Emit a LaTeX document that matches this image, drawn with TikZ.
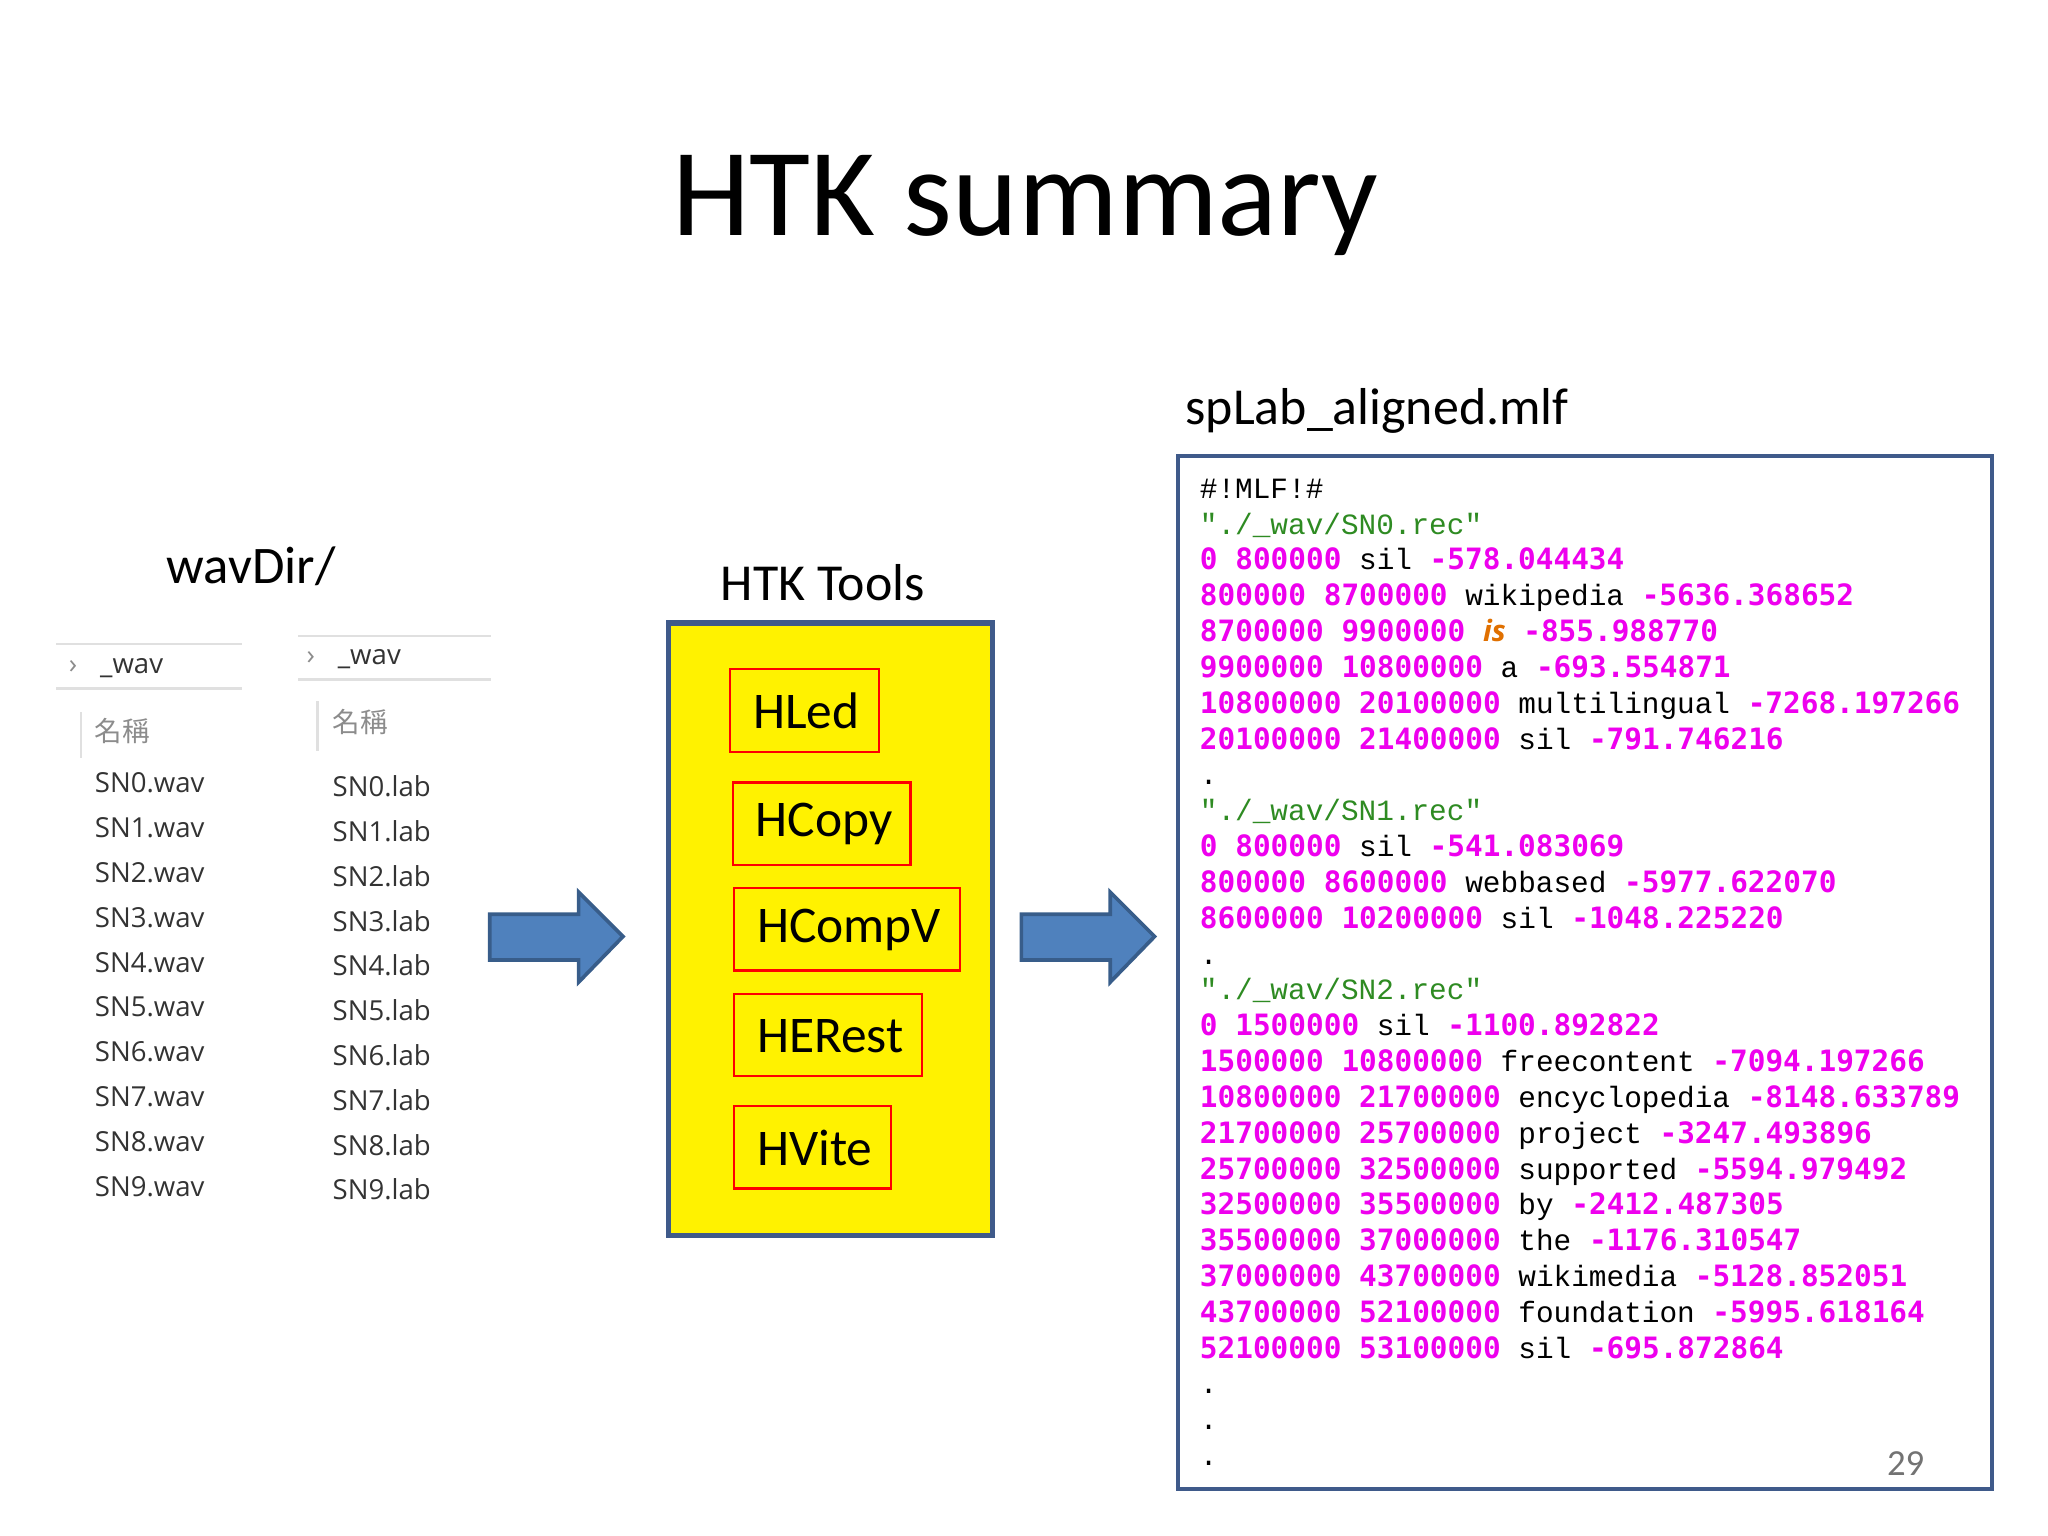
\documentclass[tikz,border=0pt]{standalone}
\usepackage{fontspec}
\setmainfont{Carlito}
\newfontfamily\cjkf{Noto Sans CJK TC}
\newfontfamily\uif{Open Sans}
\newfontfamily\monok{Liberation Mono}
\newfontfamily\monom{DejaVu Sans Mono}
\definecolor{mag}{HTML}{EE00EE}
\definecolor{grn}{HTML}{2E8B22}
\definecolor{org}{HTML}{E07000}
\definecolor{arrfill}{HTML}{4F81BD}
\definecolor{arrline}{HTML}{385D8A}
\definecolor{boxline}{HTML}{3F5A8A}
\newcommand{\Mg}[1]{{\monom\bfseries\color{mag}#1}}
\newcommand{\Kk}[1]{{\monok\color{black}#1}}
\newcommand{\Gg}[1]{{\monok\color{grn}#1}}
\begin{document}
\begin{tikzpicture}[x=0.01cm,y=-0.01cm,
  toolbox/.style={draw=red,line width=0.5pt},
  tooltxt/.style={anchor=west,inner sep=0pt,font=\fontsize{11.2}{13}\selectfont},
  fname/.style={anchor=base west,inner sep=0pt,text=black!80,font=\uif\fontsize{6.0}{7}\selectfont},
  sep/.style={draw=black!12,line width=0.6pt},
  barrow/.style={fill=arrfill,draw=arrline,line width=0.8pt}]
\useasboundingbox (0,0) rectangle (1568,1176);
\node[anchor=base,inner sep=0pt,font=\fontsize{27.2}{30}\selectfont] (title) at (785,180) {HTK summary};
\node[anchor=base west,inner sep=0pt,font=\fontsize{11.5}{14}\selectfont] (wd) at (127,447) {wavDir/};
\node[anchor=base,inner sep=0pt,font=\fontsize{11.3}{14}\selectfont] (ht) at (630,460) {HTK Tools};
\node[anchor=base west,inner sep=0pt,font=\fontsize{11.3}{14}\selectfont] (sl) at (907,325) {spLab\_aligned.mlf};
% left panels
\draw[sep] (43,493) -- (185,493); \draw[sep] (43,527) -- (185,527);
\draw[sep] (228,487) -- (376,487); \draw[sep] (228,520) -- (376,520);
\draw[sep] (62,545) -- (62,580); \draw[sep] (243,537) -- (243,575);
\node[fname,text=black!45] (c1) at (52,516) {\fontsize{6}{7}\selectfont ›};
\node[fname] (w1) at (76,516) {\_wav};
\node[fname,text=black!45] (c2) at (234,509) {\fontsize{6}{7}\selectfont ›};
\node[fname] (w2) at (258,509) {\_wav};
\node[fname,text=black!45] (n1) at (72,568) {\cjkf 名稱};
\node[fname,text=black!45] (n2) at (254,561) {\cjkf 名稱};
\foreach \i in {0,...,9}{
  \node[fname] (fw\i) at (72,{607+34.3*\i}) {SN\i.wav};
  \node[fname] (fl\i) at (254,{610+34.3*\i}) {SN\i.lab};
}
% tools box
\draw[fill=yellow,draw=boxline,line width=1.2pt] (512,477) rectangle (760,946);
\draw[toolbox] (559,512) rectangle (673,576);
\node[tooltxt] (t1) at (576,544) {HLed};
\draw[toolbox] (561,599) rectangle (697,662);
\node[tooltxt] (t2) at (578,631) {HCopy};
\draw[toolbox] (562,680) rectangle (735,743);
\node[tooltxt] (t3) at (579,712) {HCompV};
\draw[toolbox] (562,761) rectangle (706,824);
\node[tooltxt] (t4) at (579,793) {HERest};
\draw[toolbox] (562,847) rectangle (682,910);
\node[tooltxt] (t5) at (579,879) {HVite};
% arrows
\draw[barrow] (375,700) -- (443,700) -- (443,683) -- (477,717) -- (443,752) -- (443,735) -- (375,735) -- cycle;
\draw[barrow] (782,700) -- (850,700) -- (850,683) -- (884,717) -- (850,752) -- (850,735) -- (782,735) -- cycle;
% mlf box
\draw[draw=boxline,line width=0.8pt,fill=white] (902,349) rectangle (1525,1140);
\node[anchor=north west,inner sep=0pt,align=left,font=\monok\fontsize{6.4}{7.8}\selectfont] (code) at (918,366) {%
\Kk{\#!MLF!\#}\\
\Gg{"./\_wav/SN0.rec"}\\
\Mg{0 800000} \Kk{sil} \Mg{-578.044434}\\
\Mg{800000 8700000} \Kk{wikipedia} \Mg{-5636.368652}\\
\Mg{8700000 9900000} {\uif\bfseries\itshape\color{org}is} \Mg{-855.988770}\\
\Mg{9900000 10800000} \Kk{a} \Mg{-693.554871}\\
\Mg{10800000 20100000} \Kk{multilingual} \Mg{-7268.197266}\\
\Mg{20100000 21400000} \Kk{sil} \Mg{-791.746216}\\
\Kk{.}\\
\Gg{"./\_wav/SN1.rec"}\\
\Mg{0 800000} \Kk{sil} \Mg{-541.083069}\\
\Mg{800000 8600000} \Kk{webbased} \Mg{-5977.622070}\\
\Mg{8600000 10200000} \Kk{sil} \Mg{-1048.225220}\\
\Kk{.}\\
\Gg{"./\_wav/SN2.rec"}\\
\Mg{0 1500000} \Kk{sil} \Mg{-1100.892822}\\
\Mg{1500000 10800000} \Kk{freecontent} \Mg{-7094.197266}\\
\Mg{10800000 21700000} \Kk{encyclopedia} \Mg{-8148.633789}\\
\Mg{21700000 25700000} \Kk{project} \Mg{-3247.493896}\\
\Mg{25700000 32500000} \Kk{supported} \Mg{-5594.979492}\\
\Mg{32500000 35500000} \Kk{by} \Mg{-2412.487305}\\
\Mg{35500000 37000000} \Kk{the} \Mg{-1176.310547}\\
\Mg{37000000 43700000} \Kk{wikimedia} \Mg{-5128.852051}\\
\Mg{43700000 52100000} \Kk{foundation} \Mg{-5995.618164}\\
\Mg{52100000 53100000} \Kk{sil} \Mg{-695.872864}\\
\Kk{.}\\
\Kk{.}\\
\Kk{.}};
\node[anchor=base east,inner sep=0pt,text=black!55,font=\fontsize{8}{9}\selectfont] (pg) at (1474,1130) {29};
\end{tikzpicture}
\end{document}
